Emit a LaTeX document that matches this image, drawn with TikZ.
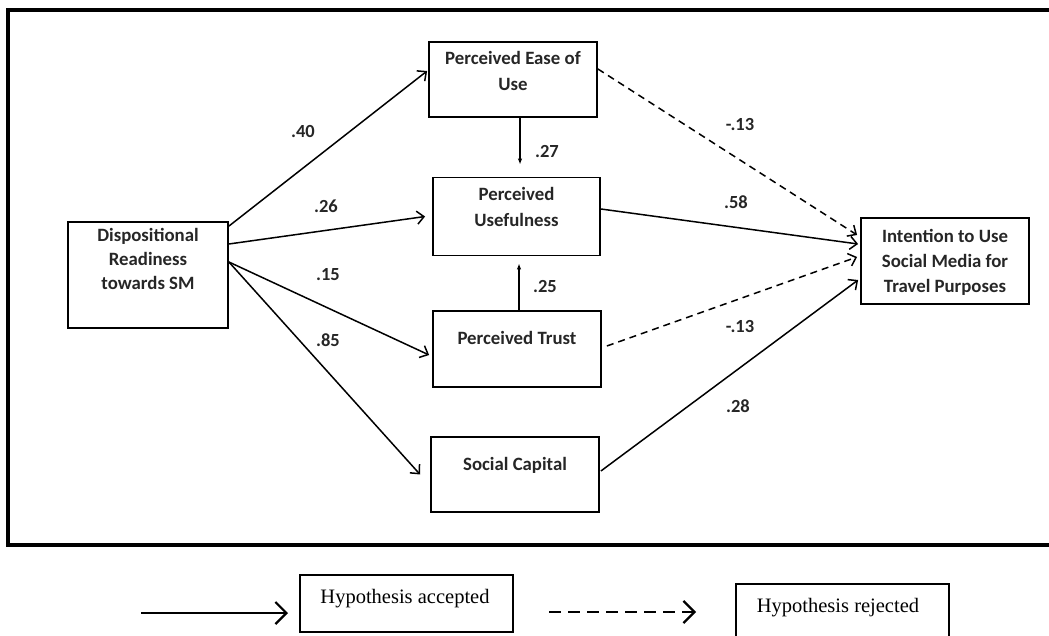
\documentclass[tikz,border=0pt]{standalone}
\usepackage{fontspec}
\setmainfont{Carlito}
\newfontfamily\legendfont{Liberation Serif}
\usetikzlibrary{arrows.meta,calc}
\begin{document}
\begin{tikzpicture}[x=1pt,y=-1pt,
 box/.style={draw=black,line width=1.8pt,inner sep=0pt},
 lbl/.style={font=\fontsize{18.8}{25}\selectfont\bfseries,text=black!85,align=center,inner sep=0pt},
 num/.style={font=\fontsize{18.5}{20}\selectfont\bfseries,text=black!85,inner sep=0pt},
 acc/.style={line width=1.5pt,-{Straight Barb[length=7pt,width=13pt,line width=1.5pt]}},
 rej/.style={acc,dash pattern=on 7pt off 5pt},
 vert/.style={line width=1.5pt,-{Latex[length=6pt,width=4.5pt]}},
 legbox/.style={draw=black,line width=2.4pt,inner sep=0pt},
 legtxt/.style={font=\legendfont\fontsize{20.5}{22}\selectfont,inner sep=0pt},
 legacc/.style={line width=2.2pt,-{Straight Barb[length=11pt,width=22pt,line width=2.2pt]}},
 legrej/.style={legacc,dash pattern=on 12pt off 7pt},
]
\useasboundingbox (0,0) rectangle (1049,636);
% outer frame (right side runs off the picture)
\draw[line width=4pt] (1049,10) -- (8,10) -- (8,545) -- (1049,545);

% boxes
\node[box,minimum width=160pt,minimum height=106pt] (disp) at (148,275) {};
\node[box,minimum width=168pt,minimum height=75pt] (peou) at (513,79.5) {};
\node[box,minimum width=167pt,minimum height=78pt] (pu) at (516.5,216.5) {};
\node[box,minimum width=168pt,minimum height=76pt] (pt) at (517,349) {};
\node[box,minimum width=168pt,minimum height=75pt] (sc) at (515,474.5) {};
\node[box,minimum width=168pt,minimum height=86pt] (int) at (945,261) {};

% box texts
\node[lbl,font=\fontsize{18.8}{24}\selectfont\bfseries] (dispt) at (148,259) {Dispositional\\Readiness\\towards SM};
\node[lbl,font=\fontsize{18.8}{26}\selectfont\bfseries] (peout) at (513,71) {Perceived Ease of\\Use};
\node[lbl,font=\fontsize{18.8}{26}\selectfont\bfseries] (put) at (516.5,207) {Perceived\\Usefulness};
\node[lbl] (ptt) at (517,338) {Perceived Trust};
\node[lbl] (sct) at (515,465) {Social Capital};
\node[lbl,font=\fontsize{18.8}{25}\selectfont\bfseries] (intt) at (945,262) {Intention to Use\\Social Media for\\Travel Purposes};

% paths from Dispositional Readiness
\draw[acc] ($(disp.north east)+(0,5)$) -- ($(peou.west)+(-1,-8.5)$);
\draw[acc] ($(disp.east)+(0,-31)$) -- ($(pu.west)+(-7,0)$);
\draw[acc] ($(disp.east)+(0,-13)$) -- ($(pt.west)+(-3,6)$);
\draw[acc] ($(disp.east)+(0,-13)$) -- ($(sc.west)+(-10,0)$);

% vertical paths
\draw[vert] ($(peou.south)+(7,0)$) -- ($(pu.north)+(3.5,-12)$);
\draw[vert] ($(pt.north)+(2,0)$) -- ($(pu.south)+(2.5,7)$);

% paths to Intention
\draw[rej] ($(peou.east)+(0,-10.5)$) -- ($(int.west)+(-3,-26)$);
\draw[acc] ($(pu.east)+(0,-7.5)$) -- ($(int.west)+(-2,-17)$);
\draw[rej] ($(pt.east)+(5,-3)$) -- ($(int.west)+(-3,-4)$);
\draw[acc] ($(sc.east)+(1,-3.5)$) -- ($(int.west)+(-2,19)$);

% coefficients
\node[num] (c40) at (303,131) {.40};
\node[num] (c26) at (326,206) {.26};
\node[num] (c15) at (328,275) {.15};
\node[num] (c85) at (328,340) {.85};
\node[num] (c27) at (547,151) {.27};
\node[num] (c25) at (545,286) {.25};
\node[num] (cm13a) at (740,124) {-.13};
\node[num] (c58) at (736,202) {.58};
\node[num] (cm13b) at (740,326) {-.13};
\node[num] (c28) at (738,406) {.28};

% legend
\coordinate (la1) at (141,613);
\coordinate (la2) at (288,613);
\draw[legacc] (la1) -- (la2);
\node[legbox,minimum width=213pt,minimum height=57pt] (accbox) at (406.5,603.5) {};
\node[legtxt] (acctxt) at (405,599) {Hypothesis accepted};
\coordinate (lr1) at (549,612);
\coordinate (lr2) at (696,612);
\draw[legrej] (lr1) -- (lr2);
\node[legbox,minimum width=213pt,minimum height=58pt] (rejbox) at (842.5,613) {};
\node[legtxt] (rejtxt) at (838,608) {Hypothesis rejected};
\end{tikzpicture}
\end{document}
